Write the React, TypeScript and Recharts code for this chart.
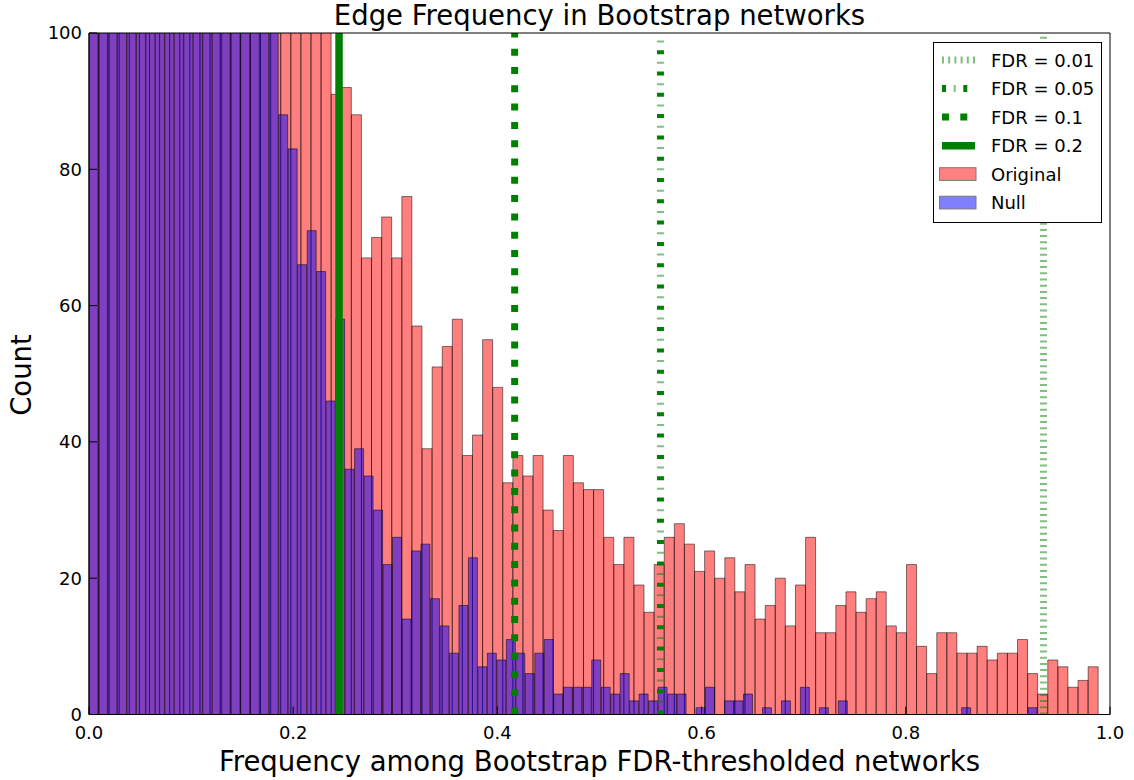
import { BarChart, Bar, XAxis, YAxis, ReferenceLine } from 'recharts';

// Histogram counts, 100 bins each. The two histograms have their own bin ranges:
// Original covers 0 .. 0.9885, Null covers 0 .. 0.929.
const ORIGINAL_MAX = 0.9885;
const NULL_MAX = 0.929;

// first bins run far above the 100 cap of the axis
const originalCounts = [
  2900, 1650, 1120, 830, 660, 540, 455, 390, 340, 300, 268, 240, 218, 200, 184, 170, 158, 148, 139, 131, 124, 117, 111, 105,
  91, 92, 88, 67, 70, 73, 67, 76, 57, 39,
  51, 54, 58, 38, 41, 55, 48, 34, 38, 35,
  38, 30, 27, 38, 34, 33, 33, 26, 22, 26,
  19, 15, 22, 26, 28, 25, 21, 24, 20, 23,
  18, 22, 14, 16, 20, 13, 19, 26, 12, 12,
  16, 18, 15, 17, 18, 13, 12, 22, 10, 6,
  12, 12, 9, 9, 10, 8, 9, 9, 11, 6,
  3, 8, 7, 4, 5, 7,
];

const nullCounts = [
  3400, 1800, 1150, 820, 630, 500, 410, 345, 295, 255, 225, 200, 180, 163, 149, 137, 127, 118, 110, 103,
  88, 83, 66, 71, 65, 46, 58, 36, 39, 35,
  30, 22, 26, 14, 24, 25, 17, 13, 9, 16,
  23, 7, 9, 8, 11, 9, 6, 9, 11, 3,
  4, 4, 4, 8, 4, 3, 6, 2, 3, 2,
  4, 3, 3, 0, 1, 4, 0, 2, 2, 3,
  0, 1, 0, 2, 0, 4, 0, 1, 0, 2,
  0, 0, 0, 0, 0, 0, 0, 0, 0, 0,
  0, 0, 1, 0, 0, 0, 0, 0, 0, 1,
];

const xTicks = [0, 0.2, 0.4, 0.6, 0.8, 1.0];
const yTicks = [0, 20, 40, 60, 80, 100];

const fdrLabels = ['FDR = 0.01', 'FDR = 0.05', 'FDR = 0.1', 'FDR = 0.2'];
const fdrThresholds = [0.9349, 0.5597, 0.4169, 0.2449];

const GREEN = '#008000';
const FONT = '"DejaVu Sans", sans-serif';

// plot box in page pixels
const PLOT_LEFT = 89;
const PLOT_RIGHT = 1110;
const PLOT_TOP = 33;
const PLOT_BOTTOM = 714.5;
const PLOT_W = PLOT_RIGHT - PLOT_LEFT;

// pos = centre of the original bin on the 0..1 frequency scale
const data = originalCounts.map((v, i) => ({
  bin: i,
  pos: ((i + 0.5) * ORIGINAL_MAX) / originalCounts.length,
  original: v,
  nullCount: nullCounts[i],
}));

// one stroke style per FDR level (index into fdrLabels)
function FdrStroke({ level, x1, y1, x2, y2 }: { level: number; x1: number; y1: number; x2: number; y2: number }) {
  const pos = { x1, y1, x2, y2 };
  if (level === 0) {
    return <line {...pos} stroke={GREEN} strokeOpacity={0.5} strokeWidth={7} strokeDasharray="2 4.2" />;
  }
  if (level === 1) {
    return (
      <g>
        <line {...pos} stroke={GREEN} strokeWidth={7} strokeDasharray="4 17.3" />
        <line {...pos} stroke={GREEN} strokeOpacity={0.5} strokeWidth={7} strokeDasharray="0 11.65 2 7.65" />
      </g>
    );
  }
  if (level === 2) {
    return <line {...pos} stroke={GREEN} strokeWidth={7} strokeDasharray="7 11.3" />;
  }
  return <line {...pos} stroke={GREEN} strokeWidth={7.5} />;
}

function LegendBox() {
  const rowY = (k: number) => 18 + 28.55 * k;
  return (
    <svg width={170} height={183} style={{ position: 'absolute', left: 932, top: 41 }}>
      <rect x={1.5} y={1.5} width={168} height={180} fill="#fff" stroke="#000" strokeWidth={1} />
      {fdrLabels.map((label, k) => (
        <g key={label}>
          <FdrStroke level={k} x1={10} y1={rowY(k) + 1} x2={43} y2={rowY(k) + 1} />
          <text x={59} y={rowY(k) + 7.5} fontSize={18} fontFamily={FONT} fill="#000">
            {label}
          </text>
        </g>
      ))}
      <rect x={7.5} y={rowY(4) - 5.5} width={36.5} height={12.7} fill="#ff8080" stroke="#7a7a7a" />
      <text x={59} y={rowY(4) + 7.5} fontSize={18} fontFamily={FONT} fill="#000">
        Original
      </text>
      <rect x={7.5} y={rowY(5) - 5.5} width={36.5} height={12.7} fill="#8080ff" stroke="#7a7a7a" />
      <text x={59} y={rowY(5) + 7.5} fontSize={18} fontFamily={FONT} fill="#000">
        Null
      </text>
    </svg>
  );
}

export default function App() {
  const tickStyle = { fontSize: 18, fill: '#000', fontFamily: FONT };
  const labelStyle = { fontSize: 27.5, lineHeight: '32px', color: '#000' };
  return (
    <div
      style={{
        position: 'absolute',
        left: 0,
        top: 0,
        width: 1134,
        height: 780,
        background: '#fff',
        fontFamily: FONT,
      }}
    >
      <BarChart
        width={1134}
        height={780}
        data={data}
        margin={{
          top: PLOT_TOP - 1,
          right: 1134 - PLOT_RIGHT - 1,
          bottom: 780 - PLOT_BOTTOM - 30,
          left: PLOT_LEFT - 70,
        }}
        barCategoryGap={0}
        barGap={0}
      >
        <XAxis
          xAxisId="orig"
          dataKey="bin"
          type="category"
          hide
          height={0}
          padding={{ left: 0, right: PLOT_W * (1 - ORIGINAL_MAX) }}
        />
        <XAxis
          xAxisId="null"
          dataKey="bin"
          type="category"
          hide
          height={0}
          padding={{ left: 0, right: PLOT_W * (1 - NULL_MAX) }}
        />
        <XAxis
          xAxisId="num"
          dataKey="pos"
          type="number"
          domain={[0, 1]}
          allowDataOverflow
          ticks={xTicks}
          interval={0}
          height={30}
          tickFormatter={(v: number) => v.toFixed(1)}
          tick={tickStyle}
          tickSize={-8}
          tickMargin={19.5}
          stroke="#000"
        />
        <XAxis
          xAxisId="top"
          dataKey="pos"
          orientation="top"
          type="number"
          domain={[0, 1]}
          allowDataOverflow
          ticks={xTicks}
          interval={0}
          height={1}
          tick={false}
          tickSize={-8}
          stroke="#000"
        />
        <YAxis
          yAxisId="left"
          domain={[0, 100]}
          ticks={yTicks}
          interval={0}
          allowDataOverflow
          width={70}
          tick={tickStyle}
          tickSize={-8}
          tickMargin={15}
          stroke="#000"
        />
        <YAxis
          yAxisId="right"
          orientation="right"
          domain={[0, 100]}
          allowDataOverflow
          ticks={yTicks}
          interval={0}
          width={1}
          tick={false}
          tickSize={-8}
          stroke="#000"
        />
        <Bar
          xAxisId="orig"
          yAxisId="left"
          dataKey="original"
          fill="#ff0000"
          fillOpacity={0.5}
          stroke="#000"
          strokeOpacity={0.5}
          strokeWidth={1}
          isAnimationActive={false}
        />
        <Bar
          xAxisId="null"
          yAxisId="left"
          dataKey="nullCount"
          fill="#0000ff"
          fillOpacity={0.5}
          stroke="#000"
          strokeOpacity={0.5}
          strokeWidth={1}
          isAnimationActive={false}
        />
        {fdrThresholds.map((x, k) => (
          <ReferenceLine
            key={fdrLabels[k]}
            xAxisId="num"
            yAxisId="left"
            x={x}
            shape={(p: any) => <FdrStroke level={k} x1={p.x1} y1={p.y1} x2={p.x2} y2={p.y2} />}
          />
        ))}
      </BarChart>

      <div style={{ ...labelStyle, position: 'absolute', left: PLOT_LEFT, width: PLOT_W, top: -1, textAlign: 'center' }}>
        Edge Frequency in Bootstrap networks
      </div>
      <div style={{ ...labelStyle, position: 'absolute', left: PLOT_LEFT, width: PLOT_W, top: 745, textAlign: 'center' }}>
        Frequency among Bootstrap FDR-thresholded networks
      </div>
      <div
        style={{
          ...labelStyle,
          position: 'absolute',
          left: 21 - 100,
          top: 375 - 16,
          width: 200,
          height: 32,
          textAlign: 'center',
          transform: 'rotate(-90deg)',
        }}
      >
        Count
      </div>
      <LegendBox />
    </div>
  );
}
